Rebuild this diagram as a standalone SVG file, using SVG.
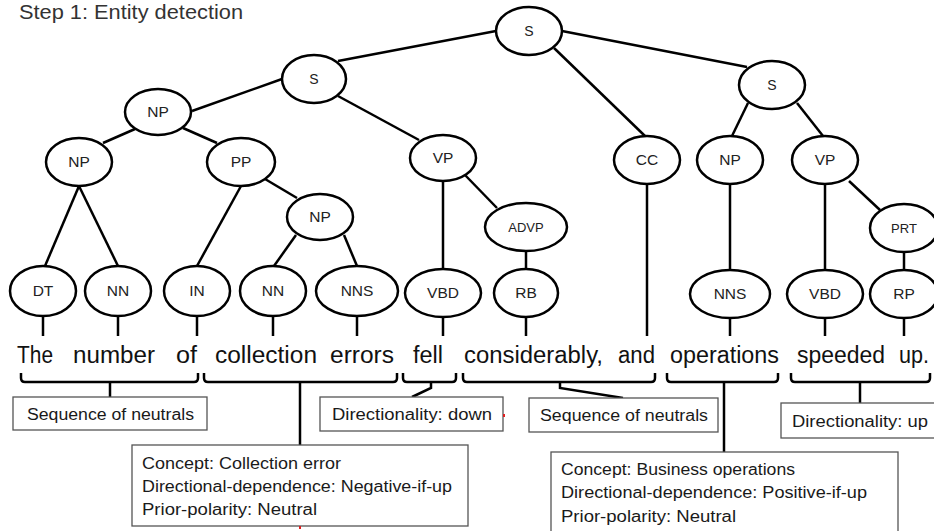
<svg xmlns="http://www.w3.org/2000/svg" width="934" height="531" viewBox="0 0 934 531">
<style>
.n ellipse{fill:#fff;stroke:#000;stroke-width:2.5}
.n text{font-family:"Liberation Sans",Arial,sans-serif;font-size:15.5px;fill:#222;text-anchor:middle}
.n text.s{font-size:14px}
.n text.sm{font-size:13px}
.e line,.e path{stroke:#000;stroke-width:2.5;fill:none}
.w{font-family:"Liberation Sans",Arial,sans-serif;font-size:23.5px;fill:#111}
.box rect{fill:#fff;stroke:#555;stroke-width:1.3}
.box text{font-family:"Liberation Sans",Arial,sans-serif;font-size:16px;fill:#1a1a1a}
.title{font-family:"Liberation Sans",Arial,sans-serif;font-size:20px;fill:#333}
</style>
<rect width="934" height="531" fill="#fff"/>
<text class="title" x="19" y="19" textLength="224" lengthAdjust="spacingAndGlyphs">Step 1: Entity detection</text>

<g id="connectors" class="e">
<line x1="496" y1="31" x2="338" y2="61"/>
<line x1="562" y1="31" x2="747" y2="67"/>
<line x1="554" y1="48" x2="645" y2="136"/>
<line x1="282" y1="79" x2="192" y2="111"/>
<line x1="338" y1="96" x2="419" y2="140"/>
<line x1="135" y1="129" x2="103" y2="143"/>
<line x1="183" y1="128" x2="217" y2="143"/>
<line x1="79" y1="186" x2="45" y2="266"/>
<line x1="79" y1="186" x2="118" y2="266"/>
<line x1="241" y1="186" x2="197" y2="266"/>
<line x1="265" y1="179" x2="297" y2="198"/>
<line x1="296" y1="235" x2="274" y2="266"/>
<line x1="344" y1="235" x2="357" y2="266"/>
<line x1="443" y1="181" x2="443" y2="269"/>
<line x1="465" y1="175" x2="497" y2="208"/>
<line x1="526" y1="251" x2="526" y2="269"/>
<line x1="647" y1="184" x2="647" y2="336"/>
<line x1="748" y1="103" x2="732" y2="136"/>
<line x1="797" y1="103" x2="823" y2="136"/>
<line x1="730" y1="184" x2="730" y2="270"/>
<line x1="825" y1="184" x2="825" y2="270"/>
<line x1="849" y1="181" x2="880" y2="210"/>
<line x1="904" y1="252" x2="904" y2="270"/>
<line x1="43" y1="316" x2="43" y2="336"/>
<line x1="118" y1="316" x2="118" y2="336"/>
<line x1="197" y1="316" x2="197" y2="336"/>
<line x1="273" y1="316" x2="273" y2="336"/>
<line x1="357" y1="316" x2="357" y2="336"/>
<line x1="443" y1="317" x2="443" y2="336"/>
<line x1="526" y1="317" x2="526" y2="336"/>
<line x1="730" y1="318" x2="730" y2="336"/>
<line x1="825" y1="318" x2="825" y2="336"/>
<line x1="904" y1="318" x2="904" y2="336"/>
<path d="M21 373 L21 378 Q21 382 25 382 L194 382 Q198 382 198 378 L198 373"/>
<line x1="110" y1="382" x2="110" y2="397"/>
<path d="M204 373 L204 378 Q204 382 208 382 L393 382 Q397 382 397 378 L397 373"/>
<line x1="300" y1="382" x2="300" y2="445"/>
<path d="M403 373 L403 378 Q403 382 407 382 L452 382 Q456 382 456 378 L456 373"/>
<path d="M431 382 L431 388 L412 397"/>
<path d="M463 373 L463 378 Q463 382 467 382 L651 382 Q655 382 655 378 L655 373"/>
<path d="M560 382 L560 388 L623 398"/>
<path d="M667 373 L667 378 Q667 382 671 382 L774 382 Q778 382 778 378 L778 373"/>
<line x1="724" y1="382" x2="724" y2="452"/>
<path d="M791 373 L791 378 Q791 382 795 382 L926 382 Q930 382 930 378 L930 373"/>
<line x1="860" y1="382" x2="860" y2="403"/>
</g>

<g id="S0" class="n"><ellipse cx="529" cy="31" rx="33" ry="24"/><text class="s" x="529" y="36">S</text></g>
<g id="S1" class="n"><ellipse cx="314" cy="79" rx="32" ry="24"/><text class="s" x="314" y="84">S</text></g>
<g id="S2" class="n"><ellipse cx="772" cy="85" rx="33" ry="24"/><text class="s" x="772" y="90">S</text></g>
<g id="NP1" class="n"><ellipse cx="158" cy="112" rx="33" ry="23"/><text x="158" y="117">NP</text></g>
<g id="NP2" class="n"><ellipse cx="79" cy="162" rx="33" ry="24"/><text x="79" y="167">NP</text></g>
<g id="PP" class="n"><ellipse cx="241" cy="162" rx="34" ry="24"/><text x="241" y="167">PP</text></g>
<g id="VP1" class="n"><ellipse cx="443" cy="158" rx="33" ry="23"/><text x="443" y="163">VP</text></g>
<g id="CC" class="n"><ellipse cx="647" cy="160" rx="33" ry="24"/><text x="647" y="165">CC</text></g>
<g id="NP4" class="n"><ellipse cx="730" cy="160" rx="33" ry="24"/><text x="730" y="165">NP</text></g>
<g id="VP2" class="n"><ellipse cx="825" cy="160" rx="33" ry="24"/><text x="825" y="165">VP</text></g>
<g id="NP3" class="n"><ellipse cx="320" cy="217" rx="33" ry="23"/><text x="320" y="222">NP</text></g>
<g id="ADVP" class="n"><ellipse cx="526" cy="227" rx="41" ry="24"/><text class="sm" x="526" y="232">ADVP</text></g>
<g id="PRT" class="n"><ellipse cx="904" cy="228" rx="34" ry="24"/><text class="sm" x="904" y="233">PRT</text></g>
<g id="DT" class="n"><ellipse cx="43" cy="291" rx="33" ry="25"/><text x="43" y="296">DT</text></g>
<g id="NN1" class="n"><ellipse cx="118" cy="291" rx="33" ry="25"/><text x="118" y="296">NN</text></g>
<g id="IN" class="n"><ellipse cx="197" cy="291" rx="33" ry="25"/><text x="197" y="296">IN</text></g>
<g id="NN2" class="n"><ellipse cx="273" cy="291" rx="33" ry="25"/><text x="273" y="296">NN</text></g>
<g id="NNS1" class="n"><ellipse cx="357" cy="291" rx="41" ry="25"/><text x="357" y="296">NNS</text></g>
<g id="VBD1" class="n"><ellipse cx="443" cy="293" rx="38" ry="24"/><text x="443" y="298">VBD</text></g>
<g id="RB" class="n"><ellipse cx="526" cy="293" rx="32" ry="24"/><text x="526" y="298">RB</text></g>
<g id="NNS2" class="n"><ellipse cx="730" cy="294" rx="40" ry="24"/><text x="730" y="299">NNS</text></g>
<g id="VBD2" class="n"><ellipse cx="825" cy="294" rx="38" ry="24"/><text x="825" y="299">VBD</text></g>
<g id="RP" class="n"><ellipse cx="904" cy="294" rx="34" ry="24"/><text x="904" y="299">RP</text></g>

<g id="sentence">
<text class="w" x="17" y="363" textLength="36" lengthAdjust="spacingAndGlyphs">The</text>
<text class="w" x="73" y="363" textLength="82" lengthAdjust="spacingAndGlyphs">number</text>
<text class="w" x="176" y="363" textLength="21" lengthAdjust="spacingAndGlyphs">of</text>
<text class="w" x="215" y="363" textLength="102" lengthAdjust="spacingAndGlyphs">collection</text>
<text class="w" x="330" y="363" textLength="64" lengthAdjust="spacingAndGlyphs">errors</text>
<text class="w" x="413" y="363" textLength="30" lengthAdjust="spacingAndGlyphs">fell</text>
<text class="w" x="464" y="363" textLength="139" lengthAdjust="spacingAndGlyphs">considerably,</text>
<text class="w" x="618" y="363" textLength="37" lengthAdjust="spacingAndGlyphs">and</text>
<text class="w" x="670" y="363" textLength="109" lengthAdjust="spacingAndGlyphs">operations</text>
<text class="w" x="797" y="363" textLength="88" lengthAdjust="spacingAndGlyphs">speeded</text>
<text class="w" x="899" y="363" textLength="30" lengthAdjust="spacingAndGlyphs">up.</text>
</g>

<g id="box1" class="box"><rect x="13" y="397" width="194" height="33"/><text x="27" y="420" textLength="167" lengthAdjust="spacingAndGlyphs">Sequence of neutrals</text></g>
<g id="box2" class="box"><rect x="320" y="397" width="183" height="34"/><text x="332" y="420" textLength="160" lengthAdjust="spacingAndGlyphs">Directionality: down</text></g>
<g id="box3" class="box"><rect x="529" y="398" width="189" height="34"/><text x="540" y="421" textLength="168" lengthAdjust="spacingAndGlyphs">Sequence of neutrals</text></g>
<g id="box4" class="box"><rect x="781" y="403" width="160" height="35"/><text x="792" y="427" textLength="136" lengthAdjust="spacingAndGlyphs">Directionality: up</text></g>
<g id="box5" class="box"><rect x="132" y="445" width="336" height="81"/>
<text x="142" y="469" textLength="199" lengthAdjust="spacingAndGlyphs">Concept: Collection error</text>
<text x="142" y="492" textLength="310" lengthAdjust="spacingAndGlyphs">Directional-dependence: Negative-if-up</text>
<text x="142" y="515" textLength="175" lengthAdjust="spacingAndGlyphs">Prior-polarity: Neutral</text></g>
<g id="box6" class="box"><rect x="551" y="452" width="347" height="90"/>
<text x="561" y="475" textLength="234" lengthAdjust="spacingAndGlyphs">Concept: Business operations</text>
<text x="561" y="498" textLength="306" lengthAdjust="spacingAndGlyphs">Directional-dependence: Positive-if-up</text>
<text x="561" y="522" textLength="175" lengthAdjust="spacingAndGlyphs">Prior-polarity: Neutral</text></g>
<rect x="503" y="414" width="2" height="3" fill="#e02020"/>
<rect x="299" y="526" width="2" height="3" fill="#e02020"/>
</svg>
